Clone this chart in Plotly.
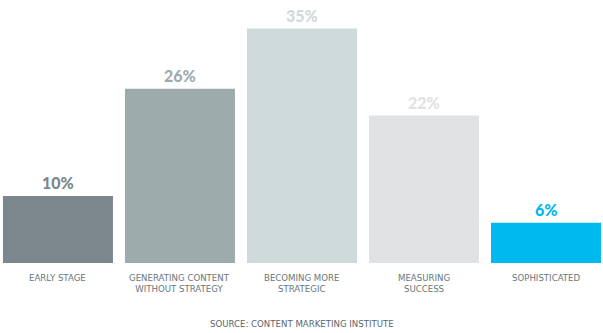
import plotly.graph_objects as go

categories = ["EARLY STAGE", "GENERATING CONTENT<br>WITHOUT STRATEGY", "BECOMING MORE<br>STRATEGIC", "MEASURING<br>SUCCESS", "SOPHISTICATED"]
values = [10, 26, 35, 22, 6]
value_labels = ["10%", "26%", "35%", "22%", "6%"]
colors = ["#7b878c", "#9eabad", "#cfdadb", "#e1e2e3", "#00b9ef"]
source = "SOURCE: CONTENT MARKETING INSTITUTE"

xs = list(range(len(categories)))

fig = go.Figure(go.Bar(x=xs, y=values, marker=dict(color=colors, line=dict(width=0)),
                       width=0.9016, hoverinfo="skip"))

for i, (v, lab, c, cat) in enumerate(zip(values, value_labels, colors, categories)):
    fig.add_annotation(x=i, y=v, text=lab, showarrow=False,
                       yanchor="bottom", yshift=2,
                       font=dict(family="Lato", size=16, color=c, weight=900))
    fig.add_annotation(x=i, y=0, text=cat, showarrow=False, yanchor="top", yshift=-8,
                       font=dict(family="DejaVu Sans", size=8.6, color="#6a767b", weight=500))

fig.add_annotation(x=0.5, xref="paper", y=-0.232, yref="paper", yanchor="middle", text=source,
                   showarrow=False, xanchor="center",
                   font=dict(family="DejaVu Sans", size=8.6, color="#5a666b"))

fig.update_layout(
    width=603, height=333,
    margin=dict(l=0, r=0, t=0, b=70),
    paper_bgcolor="white", plot_bgcolor="white",
    showlegend=False,
    xaxis=dict(range=[-0.475, 4.467], visible=False, fixedrange=True),
    yaxis=dict(range=[0, 263 / 6.7], visible=False, fixedrange=True),
)
fig.write_html("out.html", config={"displayModeBar": False})
